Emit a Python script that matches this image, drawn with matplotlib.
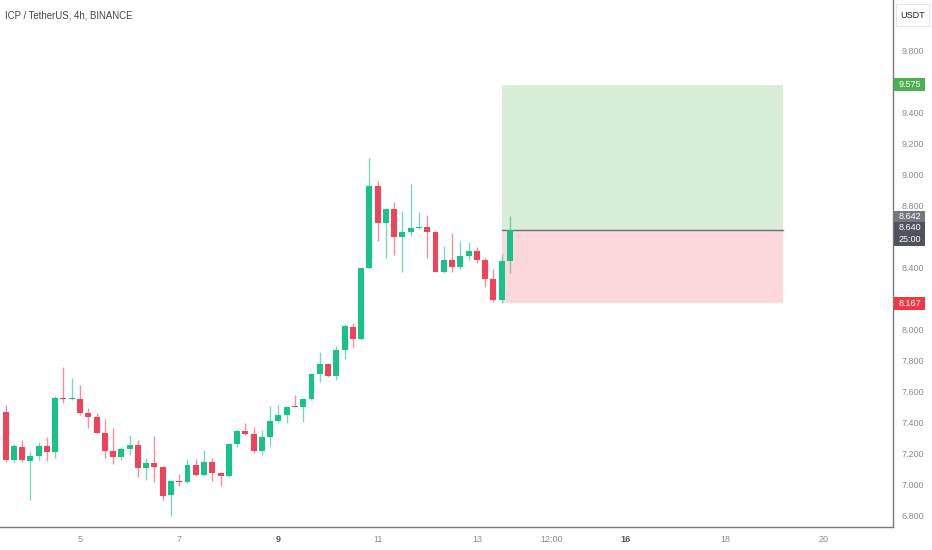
import matplotlib
matplotlib.use("Agg")
import matplotlib.pyplot as plt
import matplotlib.transforms as mtransforms
from matplotlib.patches import Rectangle
import numpy as np

plt.rcParams['font.family'] = ['Liberation Sans', 'DejaVu Sans']

# ---- data (4h candles, ICP/USDT) ----
opens = [7.50, 7.465, 7.155, 7.239, 7.149, 7.181, 7.246, 7.207, 7.555, 7.549,
         7.549, 7.459, 7.433, 7.329, 7.213, 7.175, 7.226, 7.252, 7.104, 7.136,
         7.110, 6.929, 7.020, 7.013, 7.123, 7.059, 7.142, 7.071, 7.052, 7.258,
         7.342, 7.323, 7.213, 7.304, 7.407, 7.446, 7.504, 7.497, 7.549, 7.710,
         7.775, 7.697, 7.865, 8.013, 7.936, 8.394, 8.923, 8.684, 8.775, 8.594,
         8.626, 8.652, 8.658, 8.626, 8.368, 8.446, 8.400, 8.471, 8.504, 8.446,
         8.323, 8.188, 8.439]
highs = [7.52, 7.510, 7.258, 7.284, 7.213, 7.271, 7.304, 7.568, 7.755, 7.684,
         7.639, 7.491, 7.459, 7.420, 7.362, 7.239, 7.317, 7.284, 7.168, 7.310,
         7.117, 7.026, 7.065, 7.162, 7.162, 7.220, 7.168, 7.075, 7.265, 7.355,
         7.394, 7.368, 7.349, 7.504, 7.510, 7.504, 7.575, 7.555, 7.716, 7.852,
         7.781, 7.891, 8.033, 8.039, 8.400, 9.104, 8.955, 8.780, 8.820, 8.762,
         8.936, 8.755, 8.736, 8.630, 8.536, 8.620, 8.568, 8.562, 8.529, 8.465,
         8.387, 8.484, 8.729]
lows = [7.44, 7.142, 7.142, 7.142, 6.897, 7.155, 7.149, 7.168, 7.523, 7.545,
        7.446, 7.362, 7.323, 7.168, 7.129, 7.155, 7.188, 7.046, 7.026, 7.013,
        6.897, 6.794, 6.988, 7.010, 7.052, 7.055, 7.020, 6.988, 7.046, 7.239,
        7.317, 7.200, 7.188, 7.246, 7.394, 7.394, 7.494, 7.400, 7.545, 7.659,
        7.690, 7.671, 7.807, 7.884, 7.930, 8.390, 8.568, 8.458, 8.478, 8.368,
        8.600, 8.645, 8.458, 8.365, 8.362, 8.368, 8.388, 8.446, 8.426, 8.271,
        8.175, 8.167, 8.362]
closes = [7.47, 7.155, 7.246, 7.155, 7.181, 7.246, 7.207, 7.555, 7.549, 7.555,
          7.459, 7.433, 7.329, 7.213, 7.175, 7.226, 7.252, 7.104, 7.136, 7.110,
          6.923, 7.020, 7.013, 7.123, 7.059, 7.142, 7.071, 7.052, 7.258, 7.342,
          7.323, 7.213, 7.304, 7.407, 7.446, 7.497, 7.497, 7.549, 7.710, 7.775,
          7.697, 7.865, 8.020, 7.936, 8.394, 8.923, 8.684, 8.775, 8.594, 8.626,
          8.652, 8.658, 8.626, 8.368, 8.446, 8.400, 8.471, 8.504, 8.446, 8.323,
          8.188, 8.439, 8.640]
first_day = 3 + 8 / 24          # first candle time (day of month)
step = 4 / 24                   # 4h candles

x_ticks = [5, 7, 9, 11, 13, 14.5, 16, 18, 20]
x_labels = ['5', '7', '9', '11', '13', '12:00', '16', '18', '20']
bold_labels = ['9', '16']
y_ticks = [6.8, 7.0, 7.2, 7.4, 7.6, 7.8, 8.0, 8.4, 8.8, 9.0, 9.2, 9.4, 9.8]

entry = 8.640
target = 9.575
stop = 8.167
box_start = 13.5
box_end = 19.17
last_price = 8.642
countdown = '25:00'

UP = '#16c487'
DOWN = '#f0435a'

fig = plt.figure(figsize=(9.32, 5.5), dpi=100)
ax = fig.add_axes([0.0, 23 / 550, 893 / 932, 527 / 550])

t = np.array([first_day + i * step for i in range(len(opens))])
o = np.array(opens); h = np.array(highs); l = np.array(lows); c = np.array(closes)
up = c >= o
cols = np.where(up, UP, DOWN)

ax.vlines(t, l, h, colors=cols, linewidth=1.0, alpha=0.6, zorder=3)
bottoms = np.minimum(o, c)
heights = np.maximum(np.abs(c - o), 0.008)
ax.bar(t, heights, bottom=bottoms, width=0.12, color=cols, linewidth=0, zorder=4)

# long position tool
ax.add_patch(Rectangle((box_start, entry), box_end - box_start, target - entry,
                       facecolor='#d9eed9', edgecolor='none', zorder=1))
ax.add_patch(Rectangle((box_start, stop), box_end - box_start, entry - stop,
                       facecolor='#fcd8dc', edgecolor='none', zorder=1))
ax.plot([box_start, box_end], [entry, entry], color='#6f6f6f', lw=1.0, zorder=2)

ax.set_xlim(3.387, 21.39)
ax.set_ylim(6.723, 10.123)

for s in ['left', 'top']:
    ax.spines[s].set_visible(False)
for s in ['right', 'bottom']:
    ax.spines[s].set_color('#7a7a7a')
    ax.spines[s].set_linewidth(1.0)

ax.yaxis.tick_right()
ax.set_yticks(y_ticks)
ax.set_yticklabels([f'{v:.3f}' for v in y_ticks])
ax.tick_params(axis='y', length=0, pad=6, labelsize=6.5, labelcolor='#8a8a8a')
ax.set_xticks(x_ticks)
ax.set_xticklabels(x_labels)
ax.tick_params(axis='x', length=0, pad=6, labelsize=6.5, labelcolor='#8a8a8a')
for lab in ax.get_xticklabels():
    if lab.get_text() in bold_labels:
        lab.set_fontweight('bold')
        lab.set_color('#555555')

# right-axis price labels (placed in pixel rows of the axis)
tr = mtransforms.blended_transform_factory(ax.transAxes, ax.transData)
ppx = 1 / 155            # price units per pixel
w = 31 / 893

def price_box(ymid, hpx, color, lines, txtcol='white'):
    hh = hpx * ppx
    ax.add_patch(Rectangle((1.0 + 1 / 893, ymid - hh / 2), w, hh, transform=tr,
                           facecolor=color, edgecolor='none', clip_on=False, zorder=10))
    n = len(lines)
    for k, s in enumerate(lines):
        yy = ymid + hh / 2 - (k + 0.5) * hh / n
        ax.text(1.0 + 1 / 893 + w / 2, yy, s, transform=tr, ha='center', va='center',
                fontsize=6.5, color=txtcol, zorder=11, clip_on=False)

price_box(target, 13, '#4caf50', [f'{target:.3f}'])
price_box(entry + 13.5 * ppx, 11, '#74777f', [f'{last_price:.3f}'])
price_box(entry - 4 * ppx, 24, '#50535d', [f'{entry:.3f}', countdown])
price_box(stop, 13, '#f23645', [f'{stop:.3f}'])

# USDT currency box
fig.patches.append(Rectangle((896 / 932, 1 - 26 / 550), 33 / 932, 22 / 550,
                             transform=fig.transFigure, facecolor='white',
                             edgecolor='#e6e6e6', linewidth=0.8, zorder=10))
fig.text(912.5 / 932, 1 - 15 / 550, 'USDT', ha='center', va='center',
         fontsize=6.5, color='#222222', zorder=11)

fig.text(5 / 932, 1 - 15 / 550, 'ICP / TetherUS, 4h, BINANCE', ha='left', va='center',
         fontsize=6.9, color='#444444',
         family=['Liberation Sans Narrow', 'Liberation Sans', 'DejaVu Sans'])

fig.savefig('out.png', dpi=100, facecolor='white')
